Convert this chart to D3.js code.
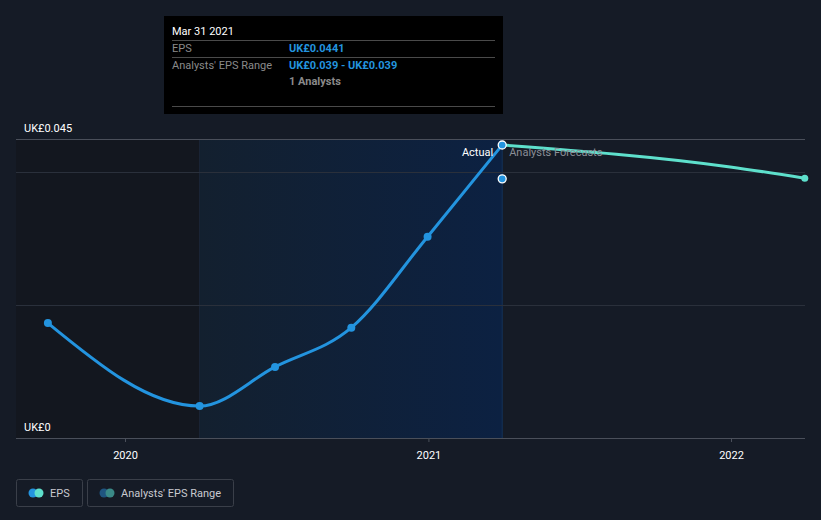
<!DOCTYPE html>
<html><head><meta charset="utf-8">
<script src="https://cdn.jsdelivr.net/npm/d3@7"></script>
<style>
html,body{margin:0;padding:0;background:#151b26;}
svg{display:block;font-family:Roboto,"Open Sans",sans-serif;}
</style></head>
<body><svg id="c" width="821" height="520"></svg>
<script>
const actualDates = ["2019-09-30","2020-03-31","2020-06-30","2020-09-30","2020-12-31","2021-03-31"];
const actualEps = [0.0173,0.0048,0.0107,0.0166,0.0303,0.0441];
const forecastDates = ["2021-03-31","2021-12-31","2022-03-31"];
const forecastEps = [0.0441,0.0408,0.0391];
const rangeDates = ["2021-03-31"];
const rangeLow = [0.039];
const rangeHigh = [0.039];
const yTickValues = [0,0.045];
const yGridValues = [0,0.02,0.04,0.045];
const xTickLabels = ["2020","2021","2022"];
const tooltipTitle = "Mar 31 2021";
const tooltipRows = [["EPS","UK£0.0441"],["Analysts' EPS Range","UK£0.039 - UK£0.039"]];
const tooltipNote = "1 Analysts";
const legendItems = ["EPS","Analysts' EPS Range"];

(function(){
const parse = d3.timeParse("%Y-%m-%d");
const svg = d3.select("#c");
const pL = 16, pR = 805, pT = 139, pB = 438;

const x0 = parse("2020-01-01"), x1 = parse("2022-01-01");
const x = d3.scaleTime()
  .domain([new Date(+x0 + (pL-125)/(731-125)*(x1-x0)), new Date(+x0 + (pR-125)/(731-125)*(x1-x0))])
  .range([pL, pR]);
const y = d3.scaleLinear().domain([0,0.045]).range([pB, pT]);

const defs = svg.append("defs");
const grad = defs.append("linearGradient").attr("id","shade").attr("x1","0").attr("x2","1").attr("y1","0").attr("y2","0");
grad.append("stop").attr("offset","0%").attr("stop-color","#13202f");
grad.append("stop").attr("offset","100%").attr("stop-color","#0c2142");

const pastStart = parse("2020-03-31"), nowD = parse("2021-03-31");
svg.append("rect").attr("x",pL).attr("y",pT).attr("width",x(pastStart)-pL).attr("height",pB-pT).attr("fill","#13171f");
svg.append("rect").attr("x",x(pastStart)).attr("y",pT).attr("width",x(nowD)-x(pastStart)).attr("height",pB-pT).attr("fill","url(#shade)");
svg.append("line").attr("x1",x(pastStart)).attr("x2",x(pastStart)).attr("y1",pT).attr("y2",pB).attr("stroke","#1a2536").attr("stroke-width",1);
svg.append("line").attr("x1",x(nowD)).attr("x2",x(nowD)).attr("y1",pT).attr("y2",pB).attr("stroke","#13335a").attr("stroke-width",1);

svg.append("g").selectAll("line").data(yGridValues).join("line")
  .attr("x1",pL).attr("x2",pR).attr("y1",d=>Math.round(y(d))+0.5).attr("y2",d=>Math.round(y(d))+0.5)
  .attr("stroke",d=>d===0.045||d===0?"#4a4f5a":"#2a303b").attr("stroke-width",1);

svg.append("g").selectAll("text").data(yTickValues).join("text")
  .attr("x",24).attr("y",d=>y(d)-7).attr("fill","#ffffff").attr("font-size",11)
  .text(d=>d===0?"UK£0":"UK£"+d3.format(".3f")(d));

const xAxis = d3.axisBottom(x).tickValues(xTickLabels.map(t=>parse(t+"-01-01"))).tickFormat(d3.timeFormat("%Y")).tickSize(4);
const gx = svg.append("g").attr("transform",`translate(0,${pB})`).call(xAxis);
gx.select(".domain").remove();
gx.selectAll("line").attr("stroke","#4a4f5a");
gx.selectAll("text").attr("fill","#ffffff").attr("font-size",11).attr("dy","1.3em").attr("font-family","Roboto,sans-serif");

const actual = actualDates.map((d,i)=>({d:parse(d),v:actualEps[i]}));
const forecast = forecastDates.map((d,i)=>({d:parse(d),v:forecastEps[i]}));
const line = d3.line().x(p=>x(p.d)).y(p=>y(p.v)).curve(d3.curveMonotoneX);
svg.append("path").datum(forecast).attr("d",line).attr("fill","none").attr("stroke","#5ee0cc").attr("stroke-width",3);
svg.append("path").datum(actual).attr("d",line).attr("fill","none").attr("stroke","#2394df").attr("stroke-width",3);

svg.append("g").selectAll("circle").data(actual.slice(0,-1)).join("circle")
  .attr("cx",p=>x(p.d)).attr("cy",p=>y(p.v)).attr("r",4).attr("fill","#2394df");
const fl = forecast[forecast.length-1];
svg.append("circle").attr("cx",x(fl.d)).attr("cy",y(fl.v)).attr("r",3.5).attr("fill","#5ee0cc");
rangeDates.forEach((d,i)=>{
  svg.append("circle").attr("cx",x(parse(d))).attr("cy",y(rangeLow[i])).attr("r",4).attr("fill","#2394df").attr("stroke","#ffffff").attr("stroke-width",1.3);
});
const la = actual[actual.length-1];
svg.append("circle").attr("cx",x(la.d)).attr("cy",y(la.v)).attr("r",4).attr("fill","#2394df").attr("stroke","#ffffff").attr("stroke-width",1.3);

svg.append("text").attr("x",x(nowD)-9).attr("y",156).attr("text-anchor","end").attr("fill","#ffffff").attr("font-size",11).text("Actual");
svg.append("text").attr("x",x(nowD)+7).attr("y",156).attr("fill","#8a8e96").attr("font-size",11).text("Analysts Forecasts");

const tt = svg.append("g");
tt.append("rect").attr("x",164).attr("y",16).attr("width",339).attr("height",98).attr("fill","#000000");
tt.append("text").attr("x",172).attr("y",35).attr("fill","#ffffff").attr("font-size",11).text(tooltipTitle);
[40,57,106].forEach(yy=>tt.append("line").attr("x1",172).attr("x2",495).attr("y1",yy+0.5).attr("y2",yy+0.5).attr("stroke","#4a4a4a"));
tooltipRows.forEach((r,i)=>{
  tt.append("text").attr("x",172).attr("y",52+i*17).attr("fill","#8a8a8a").attr("font-size",11).text(r[0]);
  tt.append("text").attr("x",289).attr("y",52+i*17).attr("fill","#2394df").attr("font-size",11).attr("font-weight","bold").text(r[1]);
});
tt.append("text").attr("x",289).attr("y",85).attr("fill","#8a8a8a").attr("font-size",11).attr("font-weight","bold").text(tooltipNote);

const lg = svg.append("g");
const lw = [66,146];
let lx = 16;
const swatches = [["#2394df","#5ee0cc"],["#1f5580","#3a8a88"]];
legendItems.forEach((t,i)=>{
  lg.append("rect").attr("x",lx+0.5).attr("y",479.5).attr("width",lw[i]).attr("height",27).attr("rx",2).attr("fill","none").attr("stroke","#3a3f49");
  lg.append("circle").attr("cx",lx+17).attr("cy",493).attr("r",4.5).attr("fill",swatches[i][0]);
  lg.append("circle").attr("cx",lx+23).attr("cy",493).attr("r",4.5).attr("fill",swatches[i][1]);
  lg.append("text").attr("x",lx+34).attr("y",497).attr("fill","#c8cad0").attr("font-size",11).text(t);
  lx += lw[i]+5;
});
})();
</script></body></html>
